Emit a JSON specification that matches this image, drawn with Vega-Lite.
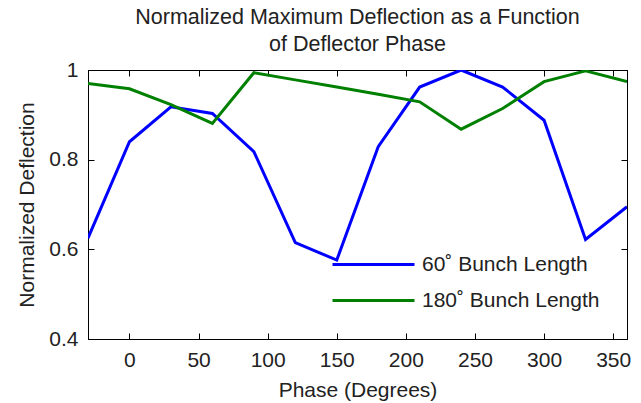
{
  "$schema": "https://vega.github.io/schema/vega-lite/v6.json",
  "autosize": "none",
  "padding": {"left": 88, "top": 70, "right": 14, "bottom": 64},
  "width": 539,
  "height": 269,
  "background": "white",
  "title": {
    "text": ["Normalized Maximum Deflection as a Function", "of Deflector Phase"],
    "fontSize": 21.5,
    "fontWeight": "normal",
    "font": "Liberation Sans",
    "color": "#222222",
    "lineHeight": 27,
    "offset": 4,
    "anchor": "middle"
  },
  "config": {
    "font": "Liberation Sans",
    "view": {"stroke": "black", "strokeWidth": 1},
    "axis": {
      "grid": false,
      "domainColor": "black",
      "tickColor": "black",
      "tickSize": -6,
      "tickWidth": 1,
      "labelFont": "Liberation Sans",
      "titleFont": "Liberation Sans",
      "labelFontSize": 21,
      "titleFontSize": 21,
      "titleFontWeight": "normal",
      "labelColor": "#222222",
      "titleColor": "#222222"
    }
  },
  "data": {
    "values": [
      {"phase": -30, "value": 0.625, "series": "60˚ Bunch Length"},
      {"phase": 0, "value": 0.84, "series": "60˚ Bunch Length"},
      {"phase": 30, "value": 0.918, "series": "60˚ Bunch Length"},
      {"phase": 60, "value": 0.903, "series": "60˚ Bunch Length"},
      {"phase": 90, "value": 0.818, "series": "60˚ Bunch Length"},
      {"phase": 120, "value": 0.615, "series": "60˚ Bunch Length"},
      {"phase": 150, "value": 0.576, "series": "60˚ Bunch Length"},
      {"phase": 180, "value": 0.829, "series": "60˚ Bunch Length"},
      {"phase": 210, "value": 0.962, "series": "60˚ Bunch Length"},
      {"phase": 240, "value": 1.0, "series": "60˚ Bunch Length"},
      {"phase": 270, "value": 0.962, "series": "60˚ Bunch Length"},
      {"phase": 300, "value": 0.888, "series": "60˚ Bunch Length"},
      {"phase": 330, "value": 0.622, "series": "60˚ Bunch Length"},
      {"phase": 360, "value": 0.695, "series": "60˚ Bunch Length"},
      {"phase": -30, "value": 0.970, "series": "180˚ Bunch Length"},
      {"phase": 0, "value": 0.958, "series": "180˚ Bunch Length"},
      {"phase": 30, "value": 0.923, "series": "180˚ Bunch Length"},
      {"phase": 60, "value": 0.881, "series": "180˚ Bunch Length"},
      {"phase": 90, "value": 0.994, "series": "180˚ Bunch Length"},
      {"phase": 120, "value": 0.978, "series": "180˚ Bunch Length"},
      {"phase": 150, "value": 0.962, "series": "180˚ Bunch Length"},
      {"phase": 180, "value": 0.946, "series": "180˚ Bunch Length"},
      {"phase": 210, "value": 0.929, "series": "180˚ Bunch Length"},
      {"phase": 240, "value": 0.868, "series": "180˚ Bunch Length"},
      {"phase": 270, "value": 0.914, "series": "180˚ Bunch Length"},
      {"phase": 300, "value": 0.974, "series": "180˚ Bunch Length"},
      {"phase": 330, "value": 0.998, "series": "180˚ Bunch Length"},
      {"phase": 360, "value": 0.974, "series": "180˚ Bunch Length"}
    ]
  },
  "layer": [
    {
      "mark": {"type": "line", "strokeWidth": 3, "clip": true},
      "encoding": {
        "x": {
          "field": "phase", "type": "quantitative",
          "scale": {"domain": [-30, 360], "nice": false, "zero": false},
          "axis": {"orient": "bottom", "title": "Phase (Degrees)", "values": [0, 50, 100, 150, 200, 250, 300, 350], "labelPadding": 16, "titlePadding": 9}
        },
        "y": {
          "field": "value", "type": "quantitative",
          "scale": {"domain": [0.4, 1], "nice": false, "zero": false},
          "axis": {"orient": "left", "title": "Normalized Deflection", "values": [0.4, 0.6, 0.8, 1], "format": ".1~f", "labelPadding": 16, "titlePadding": 11}
        },
        "color": {
          "field": "series", "type": "nominal",
          "scale": {"domain": ["60˚ Bunch Length", "180˚ Bunch Length"], "range": ["#0000ff", "#008000"]},
          "legend": {
            "title": null,
            "orient": "none",
            "legendX": 274,
            "legendY": 183,
            "symbolType": "M-4.1,0H4.1",
            "symbolSize": 400,
            "symbolStrokeWidth": 3,
            "labelFontSize": 21,
            "labelColor": "#222222",
            "labelOffset": 37,
            "labelLimit": 400,
            "rowPadding": 14
          }
        }
      }
    },
    {
      "mark": {"type": "line", "opacity": 0},
      "encoding": {
        "x": {
          "field": "phase", "type": "quantitative",
          "axis": {"orient": "top", "title": null, "labels": false, "values": [0, 50, 100, 150, 200, 250, 300, 350]}
        },
        "y": {
          "field": "value", "type": "quantitative",
          "axis": {"orient": "right", "title": null, "labels": false, "values": [0.4, 0.6, 0.8, 1]}
        },
        "detail": {"field": "series"}
      }
    }
  ],
  "resolve": {"axis": {"x": "independent", "y": "independent"}}
}
